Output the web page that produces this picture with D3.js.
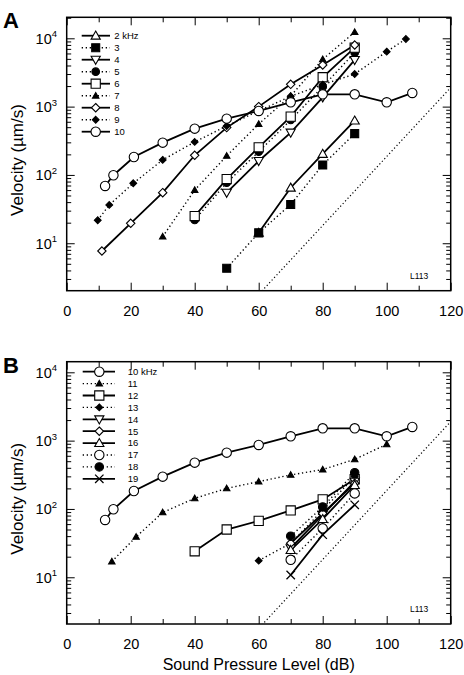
<!DOCTYPE html>
<html><head><meta charset="utf-8">
<script src="https://cdn.jsdelivr.net/npm/d3@7"></script>
<style>
body{margin:0;background:#fff;}
svg{display:block;font-family:"Liberation Sans",Arial,Helvetica,sans-serif;}
</style></head>
<body><svg id="c" width="464" height="675"></svg>
<script>
// ---------- DATA ----------
const xTicksMajor = [0, 20, 40, 60, 80, 100, 120];
const xTicksMinor = [10, 30, 50, 70, 90, 110];
const yDecades = [1, 2, 3, 4];
const xTitle = "Sound Pressure Level (dB)";
const yTitle = "Velocity (\u00b5m/s)";
const refLine = [[61, 2], [120, 1900]];

// Panel A series: [dB, velocity um/s]
const a2 = [[60, 14.2], [70, 65], [80, 203], [90, 624]];
const a3 = [[50, 4.3], [60, 14.2], [70, 37], [80, 140], [90, 403]];
const a4 = [[50, 55], [60, 160], [70, 417], [80, 1370], [90, 4820]];
const a5 = [[40, 21.9], [50, 77], [60, 219], [70, 638], [80, 1960], [90, 6170]];
const a6 = [[40, 25], [50, 87], [60, 254], [70, 714], [80, 2690], [90, 7300]];
const a7 = [[30, 12.5], [40, 60], [50, 190], [60, 557], [70, 1430], [80, 4930], [90, 12300]];
const a8 = [[11, 7.7], [20, 19.6], [30, 55], [40, 194], [50, 493], [60, 1000], [70, 2120], [80, 4070], [90, 7980]];
const a9 = [[9.7, 21.7], [13.3, 36.4], [20.8, 75.5], [30, 166], [40, 304], [50, 521], [60, 864], [70, 1416], [80, 2100], [90, 3000], [100, 6380], [106, 9780]];
const a10 = [[12, 69], [14.6, 99], [21, 183], [30, 297], [40, 476], [50, 667], [60, 864], [70, 1157], [80, 1514], [90, 1514], [100, 1157], [108, 1585]];

// Panel B series
const b10 = a10;
const b11 = [[14.1, 17], [21.7, 39], [30, 89], [40, 143], [50, 200], [60, 251], [70, 315], [80, 377], [90, 533], [100, 883]];
const b12 = [[40, 24], [50, 50], [60, 67], [70, 95], [80, 138], [90, 272]];
const b13 = [[60, 17.5], [70, 31.5], [80, 96], [90, 297]];
const b14 = [[70, 26.6], [80, 82], [90, 251]];
const b15 = [[70, 31.5], [80, 86], [90, 238]];
const b16 = [[70, 25], [80, 71], [90, 224]];
const b17 = [[70, 18], [80, 52], [90, 169]];
const b18 = [[70, 40], [80, 107], [90, 340]];
const b19 = [[70, 10.8], [80, 42], [90, 115]];

const labelsA = ["2 kHz", "3", "4", "5", "6", "7", "8", "9", "10"];
const labelsB = ["10 kHz", "11", "12", "13", "14", "15", "16", "17", "18", "19"];

// ---------- STYLES ----------
const styleA = [
  {d: a2, m: "triUp", f: false, s: 4.6, dot: false},
  {d: a3, m: "square", f: true, s: 4.0, dot: true},
  {d: a4, m: "triDown", f: false, s: 4.6, dot: false},
  {d: a5, m: "circle", f: true, s: 3.8, dot: true},
  {d: a6, m: "square", f: false, s: 4.6, dot: false},
  {d: a7, m: "triUp", f: true, s: 3.2, dot: true},
  {d: a8, m: "diamond", f: false, s: 4.2, dot: false},
  {d: a9, m: "diamond", f: true, s: 3.4, dot: true},
  {d: a10, m: "circle", f: false, s: 4.7, dot: false}
];
const styleB = [
  {d: b10, m: "circle", f: false, s: 4.7, dot: false},
  {d: b11, m: "triUp", f: true, s: 3.2, dot: true},
  {d: b12, m: "square", f: false, s: 4.6, dot: false},
  {d: b13, m: "diamond", f: true, s: 3.4, dot: true},
  {d: b14, m: "triDown", f: false, s: 4.6, dot: false},
  {d: b15, m: "diamond", f: false, s: 4.2, dot: false},
  {d: b16, m: "triUp", f: false, s: 4.6, dot: false},
  {d: b17, m: "circle", f: false, s: 4.7, dot: true},
  {d: b18, m: "circle", f: true, s: 4.2, dot: true},
  {d: b19, m: "cross", f: false, s: 4.2, dot: false}
];

function markerPath(m, s) {
  const p = d3.path();
  if (m === "circle") { p.arc(0, 0, s, 0, 2 * Math.PI); p.closePath(); }
  else if (m === "square") { p.rect(-s, -s, 2 * s, 2 * s); }
  else if (m === "triUp") { p.moveTo(0, -s); p.lineTo(s, s * 0.75); p.lineTo(-s, s * 0.75); p.closePath(); }
  else if (m === "triDown") { p.moveTo(0, s); p.lineTo(s, -s * 0.75); p.lineTo(-s, -s * 0.75); p.closePath(); }
  else if (m === "diamond") { p.moveTo(0, -s); p.lineTo(s, 0); p.lineTo(0, s); p.lineTo(-s, 0); p.closePath(); }
  else if (m === "cross") { p.moveTo(-s, -s); p.lineTo(s, s); p.moveTo(s, -s); p.lineTo(-s, s); }
  return p.toString();
}

const svg = d3.select("#c");
const X0 = 66.7, X1 = 450.7;
const x = d3.scaleLinear().domain([0, 120]).range([X0, X1]);

function drawMarker(g, st, cx, cy) {
  g.append("path").attr("d", markerPath(st.m, st.s))
    .attr("transform", `translate(${cx},${cy})`)
    .attr("fill", st.m === "cross" ? "none" : (st.f ? "#000" : "#fff"))
    .attr("stroke", "#000").attr("stroke-width", st.m === "cross" ? 1.3 : 1.1);
}

function panel(opts) {
  const {top, bottom, ydom, styles, labels, letter, clipId, leg} = opts;
  const y = d3.scaleLog().domain(ydom).range([bottom, top]);
  const g = svg.append("g");

  g.append("clipPath").attr("id", clipId).append("rect")
    .attr("x", X0).attr("y", top).attr("width", X1 - X0).attr("height", bottom - top);

  const minors = [];
  for (let e = 0; e <= 4; e++) for (let k = 2; k <= 9; k++) {
    const v = k * Math.pow(10, e);
    if (v > ydom[0] && v < ydom[1]) minors.push(v);
  }
  const majors = yDecades.map(e => Math.pow(10, e));

  const axG = g.append("g").attr("class", "axes");
  axG.append("g").attr("transform", `translate(${X0},0)`)
    .call(d3.axisLeft(y).tickValues(majors).tickSize(-8).tickFormat(""));
  axG.append("g").attr("transform", `translate(${X0},0)`)
    .call(d3.axisLeft(y).tickValues(minors).tickSize(-4.5).tickFormat(""));
  axG.append("g").attr("transform", `translate(${X1},0)`)
    .call(d3.axisRight(y).tickValues(majors).tickSize(-8).tickFormat(""));
  axG.append("g").attr("transform", `translate(${X1},0)`)
    .call(d3.axisRight(y).tickValues(minors).tickSize(-4.5).tickFormat(""));
  axG.append("g").attr("transform", `translate(0,${bottom})`)
    .call(d3.axisBottom(x).tickValues(xTicksMajor).tickSize(-8).tickPadding(15).tickFormat(d3.format("d")))
    .selectAll("text").attr("font-size", 14.5).attr("fill", "#000");
  axG.append("g").attr("transform", `translate(0,${bottom})`)
    .call(d3.axisBottom(x).tickValues(xTicksMinor).tickSize(-5).tickFormat(""));
  axG.append("g").attr("transform", `translate(0,${top})`)
    .call(d3.axisTop(x).tickValues(xTicksMajor).tickSize(-8).tickFormat(""));
  axG.append("g").attr("transform", `translate(0,${top})`)
    .call(d3.axisTop(x).tickValues(xTicksMinor).tickSize(-5).tickFormat(""));
  axG.selectAll(".domain").remove();
  axG.selectAll(".tick line").attr("stroke", "#000").attr("stroke-width", 1);
  axG.selectAll(".tick text").attr("font-family", "'Liberation Sans',Arial,sans-serif");

  yDecades.forEach(e => {
    const t = g.append("text").attr("x", 57).attr("y", y(Math.pow(10, e)) + 5.5)
      .attr("text-anchor", "end").attr("font-size", 14.5).attr("fill", "#000");
    t.append("tspan").text("10");
    t.append("tspan").attr("font-size", 9.5).attr("dy", -6.5).text(String(e));
  });

  g.append("rect").attr("x", X0).attr("y", top).attr("width", X1 - X0).attr("height", bottom - top)
    .attr("fill", "none").attr("stroke", "#000").attr("stroke-width", 1.5);

  const plot = g.append("g").attr("clip-path", `url(#${clipId})`);
  const line = d3.line().x(d => x(d[0])).y(d => y(d[1]));

  plot.append("path").attr("d", line(refLine)).attr("fill", "none")
    .attr("stroke", "#000").attr("stroke-width", 1.2).attr("stroke-dasharray", "1.2,2.4");

  styles.forEach(st => {
    plot.append("path").attr("d", line(st.d)).attr("fill", "none").attr("stroke", "#000")
      .attr("stroke-width", st.dot ? 1.4 : 1.8)
      .attr("stroke-dasharray", st.dot ? "1.3,2.7" : null);
  });
  styles.forEach(st => {
    st.d.forEach(p => drawMarker(plot, st, x(p[0]), y(p[1])));
  });

  const lg = g.append("g");
  styles.forEach((st, i) => {
    const yy = leg.y0 + i * leg.dy;
    lg.append("line").attr("x1", leg.x1).attr("x2", leg.x2).attr("y1", yy).attr("y2", yy)
      .attr("stroke", "#000").attr("stroke-width", st.dot ? 1.4 : 1.8)
      .attr("stroke-dasharray", st.dot ? "1.3,2.7" : null);
    drawMarker(lg, st, leg.xm, yy);
    lg.append("text").attr("x", leg.xt).attr("y", yy + 3.3).attr("font-size", 9.5)
      .attr("fill", "#000").text(labels[i]);
  });

  g.append("text").attr("x", 410).attr("y", bottom - 12).attr("font-size", 8.5).text("L113");

  g.append("text").attr("transform", `translate(23,${(top + bottom) / 2 + 6}) rotate(-90)`)
    .attr("text-anchor", "middle").attr("font-size", 17).text(yTitle);

  g.append("text").attr("x", 3).attr("y", top + 11).attr("font-size", 22)
    .attr("font-weight", "bold").text(letter);
}

panel({top: 17.3, bottom: 290.7, ydom: [2.02, 20300], styles: styleA, labels: labelsA,
  letter: "A", clipId: "clipA",
  leg: {y0: 35.7, dy: 12, x1: 81.7, x2: 110, xm: 95.7, xt: 114.3}});
panel({top: 361.7, bottom: 624, ydom: [2.07, 14300], styles: styleB, labels: labelsB,
  letter: "B", clipId: "clipB",
  leg: {y0: 371.7, dy: 11.9, x1: 82.7, x2: 115, xm: 99.3, xt: 127.7}});

svg.append("text").attr("x", (X0 + X1) / 2).attr("y", 670).attr("text-anchor", "middle")
  .attr("font-size", 16).text(xTitle);
</script></body></html>
